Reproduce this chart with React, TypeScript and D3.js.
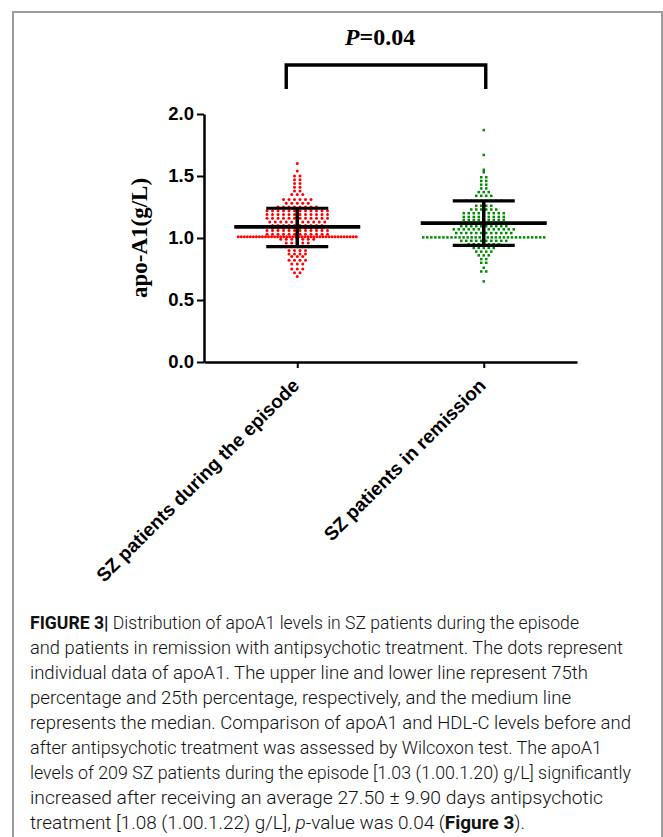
import React, { useEffect, useRef } from "react";
import * as d3 from "d3";

// categories on the x axis
const groups = ["SZ patients during the episode", "SZ patients in remission"];
const groupColors = ["#ff0000", "#008c00"];

// dot plot: [apoA1 value (g/L), number of dots at that level]
const episodeCounts: [number, number][] = [
  [1.6, 1], [1.54, 1], [1.5, 2], [1.47, 2], [1.44, 2], [1.41, 2], [1.38, 2],
  [1.35, 3], [1.31, 6], [1.28, 5], [1.25, 8], [1.22, 12], [1.19, 12],
  [1.16, 12], [1.13, 11], [1.1, 10], [1.08, 10], [1.06, 12], [1.03, 12],
  [1.01, 40], [0.99, 7], [0.96, 5], [0.93, 5], [0.9, 4], [0.87, 4],
  [0.85, 3], [0.82, 4], [0.79, 3], [0.75, 3], [0.72, 2], [0.69, 1],
];
const remissionCounts: [number, number][] = [
  [1.87, 1], [1.67, 1], [1.55, 1], [1.53, 1], [1.49, 2], [1.46, 2], [1.43, 2],
  [1.4, 2], [1.37, 3], [1.34, 4], [1.3, 8], [1.26, 4], [1.23, 6], [1.2, 9],
  [1.17, 9], [1.145, 9], [1.12, 8], [1.095, 10], [1.07, 13], [1.04, 12],
  [1.005, 31], [0.977, 10], [0.95, 7], [0.92, 5], [0.89, 4], [0.86, 3],
  [0.83, 2], [0.8, 2], [0.76, 1], [0.73, 2], [0.65, 1],
];

// median and interquartile range drawn over the dots
const medians = [1.09, 1.12];
const q1 = [0.93, 0.94];
const q3 = [1.24, 1.3];

const yTicks = [0, 0.5, 1.0, 1.5, 2.0];
const yLabel = "apo-A1(g/L)";
const pLabel = "P=0.04";

type Seg = { t: string; b?: boolean; i?: boolean };
const captionLines: Seg[][] = [
  [{ t: "FIGURE 3|", b: true }, { t: " Distribution of apoA1 levels in SZ patients during the episode" }],
  [{ t: "and patients in remission with antipsychotic treatment. The dots represent" }],
  [{ t: "individual data of apoA1. The upper line and lower line represent 75th" }],
  [{ t: "percentage and 25th percentage, respectively, and the medium line" }],
  [{ t: "represents the median. Comparison of apoA1 and HDL-C levels before and" }],
  [{ t: "after antipsychotic treatment was assessed by Wilcoxon test. The apoA1" }],
  [{ t: "levels of 209 SZ patients during the episode [1.03 (1.00.1.20) g/L] significantly" }],
  [{ t: "increased after receiving an average 27.50 \u00b1 9.90 days antipsychotic" }],
  [{ t: "treatment [1.08 (1.00.1.22) g/L], " }, { t: "p", i: true }, { t: "-value was 0.04 (" }, { t: "Figure 3", b: true }, { t: ")." }],
];
// right edge of each caption line in the picture
const captionEnds = [579, 623, 588, 571, 631, 602, 631, 603, 525];

const W = 663, H = 837;

export default function App() {
  const ref = useRef<SVGSVGElement>(null);

  useEffect(() => {
    const svg = d3.select(ref.current);
    svg.selectAll("*").remove();

    // frame of the figure box
    svg.append("path")
      .attr("d", `M13,${H} V12 H662 V${H}`)
      .attr("fill", "none")
      .attr("stroke", "#9c9c9c")
      .attr("stroke-width", 2);

    const y = d3.scaleLinear().domain([0, 2]).range([362, 114]);
    const x = d3.scalePoint<string>().domain(groups).range([204, 577]).padding(0.5);

    // y axis
    const yAxis = svg.append("g")
      .attr("transform", "translate(204,0)")
      .call(d3.axisLeft(y).tickValues(yTicks).tickFormat(d3.format(".1f")).tickSize(7).tickSizeOuter(0).tickPadding(3));
    yAxis.select(".domain").attr("stroke-width", 2.5);
    yAxis.selectAll(".tick line").attr("stroke-width", 2);
    yAxis.selectAll(".tick text")
      .style("font-family", "'Liberation Sans', Arial, sans-serif")
      .style("font-weight", "bold")
      .style("font-size", "18.5px")
      .attr("fill", "#000");

    // x axis
    const xAxis = svg.append("g")
      .attr("transform", "translate(0,362)")
      .call(d3.axisBottom(x).tickSize(6).tickSizeOuter(0));
    xAxis.select(".domain").attr("stroke-width", 2.5);
    xAxis.selectAll(".tick line").attr("stroke-width", 2);
    xAxis.selectAll(".tick text")
      .attr("y", null)
      .attr("dy", "0.35em")
      .attr("transform", "translate(-2,20) rotate(-45)")
      .style("text-anchor", "end")
      .style("font-family", "'Liberation Sans', Arial, sans-serif")
      .style("font-weight", "bold")
      .style("font-size", "19px")
      .attr("fill", "#000");

    svg.append("text")
      .attr("transform", `translate(147,${(y(0) + y(2)) / 2}) rotate(-90)`)
      .attr("text-anchor", "middle")
      .style("font-family", "'Liberation Serif', 'Times New Roman', serif")
      .style("font-weight", "bold")
      .style("font-size", "23px")
      .text(yLabel);

    // dots, one row per level, spread sideways around the category
    const layouts = [
      { counts: episodeCounts, step: 5.5, maxW: 118 },
      { counts: remissionCounts, step: 5.0, maxW: 121 },
    ];
    layouts.forEach((lay, gi) => {
      const cx = x(groups[gi])!;
      const pts: { px: number; py: number }[] = [];
      lay.counts.forEach(([v, n]) => {
        const s = n > 1 ? Math.min(lay.step, lay.maxW / (n - 1)) : 0;
        for (let k = 0; k < n; k++) {
          pts.push({ px: cx + (k - (n - 1) / 2) * s, py: y(v) });
        }
      });
      const g = svg.append("g");
      if (gi === 0) {
        g.selectAll("circle").data(pts).join("circle")
          .attr("cx", d => d.px).attr("cy", d => d.py).attr("r", 1.5)
          .attr("fill", groupColors[gi]);
      } else {
        g.selectAll("rect").data(pts).join("rect")
          .attr("x", d => d.px - 1.25).attr("y", d => d.py - 1.25)
          .attr("width", 2.5).attr("height", 2.5)
          .attr("fill", groupColors[gi]);
      }
    });

    // median and quartile bars
    groups.forEach((gname, gi) => {
      const cx = x(gname)!;
      const g = svg.append("g").attr("stroke", "#000");
      g.append("line").attr("x1", cx).attr("x2", cx)
        .attr("y1", y(q1[gi])).attr("y2", y(q3[gi])).attr("stroke-width", 3.5);
      g.append("line").attr("x1", cx - 31).attr("x2", cx + 31)
        .attr("y1", y(q3[gi])).attr("y2", y(q3[gi])).attr("stroke-width", 3.2);
      g.append("line").attr("x1", cx - 31).attr("x2", cx + 31)
        .attr("y1", y(q1[gi])).attr("y2", y(q1[gi])).attr("stroke-width", 3.2);
      g.append("line").attr("x1", cx - 63).attr("x2", cx + 63)
        .attr("y1", y(medians[gi])).attr("y2", y(medians[gi])).attr("stroke-width", 3.6);
    });

    // significance bracket
    const bx0 = x(groups[0])! - 11, bx1 = x(groups[1])! + 2;
    svg.append("path")
      .attr("d", `M${bx0},89 V65 H${bx1} V89`)
      .attr("fill", "none")
      .attr("stroke", "#000")
      .attr("stroke-width", 3.4);
    const pt = svg.append("text")
      .attr("x", 380).attr("y", 45)
      .attr("text-anchor", "middle")
      .style("font-family", "'Liberation Serif', 'Times New Roman', serif")
      .style("font-weight", "bold")
      .style("font-size", "24px");
    pt.append("tspan").style("font-style", "italic").text(pLabel.slice(0, 1));
    pt.append("tspan").text(pLabel.slice(1));

    // caption
    captionLines.forEach((segs, li) => {
      const t = svg.append("text")
        .attr("x", 30)
        .attr("y", 629 + li * 25)
        .attr("textLength", captionEnds[li] - 30)
        .attr("lengthAdjust", "spacingAndGlyphs")
        .style("font-family", "Roboto, 'Liberation Sans', sans-serif")
        .style("font-weight", 300)
        .style("font-size", "18px")
        .attr("fill", "#111");
      segs.forEach(s => {
        t.append("tspan")
          .style("font-weight", s.b ? 700 : 300)
          .style("font-style", s.i ? "italic" : "normal")
          .text(s.t);
      });
    });
  }, []);

  return (
    <svg ref={ref} width={W} height={H}
      style={{ position: "absolute", left: 0, top: 0, background: "#fff" }} />
  );
}
